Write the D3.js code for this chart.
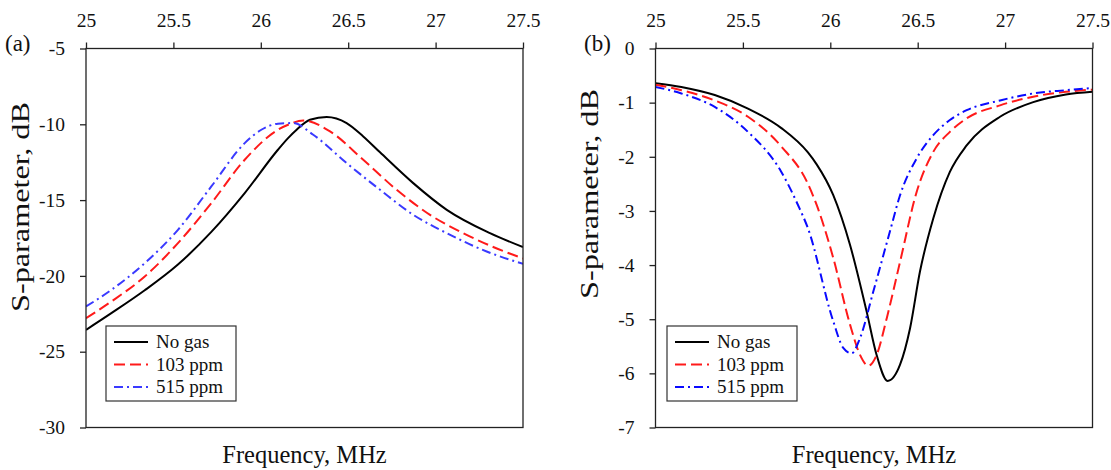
<!DOCTYPE html>
<html>
<head>
<meta charset="utf-8">
<script src="https://cdn.jsdelivr.net/npm/d3@7"></script>
<style>
  body { margin: 0; background: #fff; }
  svg text { font-family: "Liberation Serif", "Times New Roman", serif; fill: #111; }
</style>
</head>
<body>
<svg id="chart" width="1111" height="470"></svg>
<script>
var freqTicks = [25, 25.5, 26, 26.5, 27, 27.5];
var yTicksA = [-5, -10, -15, -20, -25, -30];
var yTicksB = [0, -1, -2, -3, -4, -5, -6, -7];
var seriesNames = ["No gas", "103 ppm", "515 ppm"];

// panel (a)
var aNoGasF = [25.00, 25.145, 25.336, 25.526, 25.717, 25.908, 26.098, 26.156, 26.205, 26.281, 26.377, 26.491, 26.586, 26.682, 26.872, 27.064, 27.311, 27.50];
var aNoGasS = [-23.56, -22.46, -20.95, -19.25, -17.10, -14.54, -11.68, -10.91, -10.36, -9.70, -9.52, -9.92, -10.80, -11.85, -13.88, -15.64, -17.18, -18.10];
var a103F = [25.00, 25.145, 25.336, 25.526, 25.717, 25.908, 26.098, 26.156, 26.243, 26.396, 26.586, 26.777, 26.968, 27.158, 27.323, 27.50];
var a103S = [-22.79, -21.69, -20.04, -17.84, -15.20, -12.34, -10.36, -10.03, -9.75, -10.47, -12.34, -14.32, -15.97, -17.18, -18.06, -18.85];
var a515F = [25.00, 25.145, 25.336, 25.526, 25.717, 25.908, 26.003, 26.098, 26.186, 26.300, 26.491, 26.682, 26.872, 27.064, 27.292, 27.50];
var a515S = [-22.02, -20.92, -19.16, -16.96, -14.10, -11.24, -10.36, -9.96, -9.92, -10.69, -12.56, -14.32, -15.97, -17.18, -18.39, -19.20];

// panel (b)
var bNoGasF = [25.00, 25.148, 25.339, 25.529, 25.720, 25.872, 25.922, 26.017, 26.113, 26.208, 26.265, 26.328, 26.399, 26.456, 26.513, 26.589, 26.684, 26.780, 26.971, 27.161, 27.348, 27.50];
var bNoGasS = [-0.64, -0.71, -0.86, -1.11, -1.47, -1.92, -2.14, -2.71, -3.63, -4.86, -5.66, -6.14, -5.84, -5.17, -4.12, -3.14, -2.28, -1.79, -1.26, -0.99, -0.85, -0.80];
var b103F = [25.00, 25.148, 25.339, 25.529, 25.720, 25.872, 25.922, 26.017, 26.113, 26.170, 26.217, 26.265, 26.323, 26.399, 26.494, 26.589, 26.684, 26.780, 26.971, 27.161, 27.348, 27.50];
var b103S = [-0.67, -0.77, -0.96, -1.26, -1.81, -2.50, -2.89, -3.87, -5.10, -5.66, -5.86, -5.66, -4.98, -3.94, -2.65, -1.91, -1.54, -1.29, -1.05, -0.89, -0.80, -0.76];
var b515F = [25.00, 25.148, 25.339, 25.529, 25.720, 25.815, 25.872, 26.017, 26.074, 26.122, 26.170, 26.246, 26.341, 26.399, 26.494, 26.589, 26.684, 26.780, 26.971, 27.161, 27.348, 27.50];
var b515S = [-0.71, -0.83, -1.08, -1.54, -2.28, -2.89, -3.32, -5.04, -5.53, -5.63, -5.35, -4.49, -3.38, -2.71, -2.03, -1.60, -1.32, -1.14, -0.96, -0.83, -0.77, -0.73];

var svg = d3.select("#chart");

function zip(f, s) {
  return f.map(function(d, i) { return [d, s[i]]; });
}

function drawPanel(p) {
  var x = d3.scaleLinear().domain([25, 27.5]).range([p.left, p.right]);
  var y = d3.scaleLinear().domain(p.yDomain).range([p.top, p.bottom]);
  var g = svg.append("g");

  g.append("clipPath").attr("id", p.id + "-clip")
    .append("rect")
      .attr("x", p.left).attr("y", p.top)
      .attr("width", p.right - p.left).attr("height", p.bottom - p.top);

  var top = g.append("g")
      .attr("transform", "translate(0," + p.top + ")")
      .call(d3.axisTop(x).tickValues(freqTicks).tickSize(6).tickPadding(16)
        .tickFormat(function(d) { return String(d); }));
  var left = g.append("g")
      .attr("transform", "translate(" + p.left + ",0)")
      .call(d3.axisLeft(y).tickValues(p.yTicks).tickSize(6).tickPadding(15)
        .tickFormat(function(d) { return String(d); }));
  [top, left].forEach(function(ax) {
    ax.select(".domain").remove();
    ax.selectAll("line").attr("stroke", "#222").attr("stroke-width", 1.3);
    ax.selectAll("text").style("font-size", "19.5px")
      .style("font-family", "'Liberation Serif', serif").attr("fill", "#111");
  });

  var line = d3.line()
      .x(function(d) { return x(d[0]); })
      .y(function(d) { return y(d[1]); })
      .curve(d3.curveMonotoneX);

  g.append("g").attr("clip-path", "url(#" + p.id + "-clip)")
    .selectAll("path")
    .data(p.series)
    .enter().append("path")
      .attr("d", function(d) { return line(zip(d.f, d.s)); })
      .attr("fill", "none")
      .attr("stroke", function(d) { return d.color; })
      .attr("stroke-width", 2)
      .attr("stroke-dasharray", function(d) { return d.dash; });

  g.append("rect")
      .attr("x", p.left).attr("y", p.top)
      .attr("width", p.right - p.left).attr("height", p.bottom - p.top)
      .attr("fill", "none").attr("stroke", "#222").attr("stroke-width", 1.3);

  // legend
  var lg = g.append("g").attr("transform", "translate(" + p.legendX + ",326)");
  lg.append("rect")
      .attr("width", 130).attr("height", 75)
      .attr("fill", "#fff").attr("stroke", "#333").attr("stroke-width", 1.2);
  var item = lg.selectAll("g.item")
    .data(p.series)
    .enter().append("g")
      .attr("class", "item")
      .attr("transform", function(d, i) { return "translate(0," + (16 + i * 22.5) + ")"; });
  item.append("line")
      .attr("x1", 8).attr("x2", 42)
      .attr("stroke", function(d) { return d.color; })
      .attr("stroke-width", 2)
      .attr("stroke-dasharray", function(d) { return d.dash; });
  item.append("text")
      .attr("x", 50).attr("dy", "0.33em")
      .style("font-size", "19px")
      .text(function(d, i) { return seriesNames[i]; });

  g.append("text")
      .attr("x", p.tagX).attr("y", 51)
      .style("font-size", "23px")
      .text(p.tag);

  g.append("text")
      .attr("transform", "translate(" + p.ylabX + "," + p.ylabY + ") rotate(-90)")
      .attr("text-anchor", "middle")
      .attr("textLength", 210)
      .attr("lengthAdjust", "spacingAndGlyphs")
      .style("font-size", "25px")
      .text("S-parameter, dB");

  g.append("text")
      .attr("x", (p.left + p.right) / 2).attr("y", 463)
      .attr("text-anchor", "middle")
      .style("font-size", "24.5px")
      .text("Frequency, MHz");
}

drawPanel({
  id: "a", left: 86, right: 523, top: 48.5, bottom: 427.5,
  yDomain: [-5, -30], yTicks: yTicksA,
  tag: "(a)", tagX: 5, ylabX: 29, ylabY: 207, legendX: 106,
  series: [
    { f: aNoGasF, s: aNoGasS, color: "#000", dash: null },
    { f: a103F, s: a103S, color: "#ff1a1a", dash: "11,5" },
    { f: a515F, s: a515S, color: "#3a3aff", dash: "9,4,2,4" }
  ]
});

drawPanel({
  id: "b", left: 655.5, right: 1092.5, top: 48.5, bottom: 427.5,
  yDomain: [0, -7], yTicks: yTicksB,
  tag: "(b)", tagX: 584, ylabX: 598, ylabY: 194, legendX: 667,
  series: [
    { f: bNoGasF, s: bNoGasS, color: "#000", dash: null },
    { f: b103F, s: b103S, color: "#ff1a1a", dash: "11,5" },
    { f: b515F, s: b515S, color: "#0a0aff", dash: "9,4,2,4" }
  ]
});
</script>
</body>
</html>
